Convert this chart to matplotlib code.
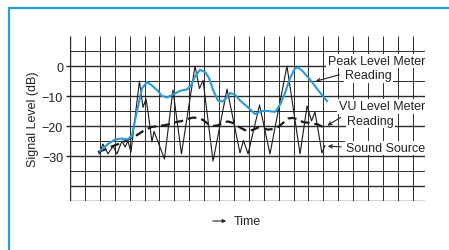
import matplotlib
matplotlib.use("Agg")
import matplotlib.pyplot as plt
from matplotlib.lines import Line2D
import numpy as np

plt.rcParams['font.family'] = ['Liberation Sans', 'DejaVu Sans']

# ---- data (time in grid divisions, level in dB) ----
peak_t = [2.01, 2.55, 3.02, 3.49, 3.89, 4.16, 4.50, 4.83, 5.17, 5.50, 5.84, 6.17,
          6.51, 6.91, 7.38, 7.85, 8.12, 8.39, 8.72, 9.06, 9.33, 9.60, 9.93, 10.27,
          10.60, 10.74, 11.07, 11.41, 11.88, 12.42, 12.89, 13.29, 13.76, 14.09,
          14.43, 14.77, 15.10, 15.30, 15.57, 16.11, 16.64, 17.25]
peak_db = [-28.3, -26.0, -24.5, -24.2, -24.5, -23.0, -15.0, -7.5, -5.3, -6.5, -8.0,
           -10.0, -10.5, -9.5, -8.3, -7.8, -6.5, -3.5, -1.3, -2.0, -4.0, -8.0, -11.5,
           -11.8, -10.0, -9.0, -9.5, -11.5, -13.5, -16.0, -15.0, -15.0, -15.3, -13.0,
           -9.0, -4.0, -0.8, -0.5, -1.5, -4.5, -8.0, -11.7]

vu_t = [1.88, 2.35, 2.82, 3.36, 3.89, 4.50, 5.03, 5.50, 6.04, 6.58, 7.05, 7.52,
        7.92, 8.26, 8.59, 8.93, 9.26, 9.60, 9.93, 10.27, 10.60, 10.94, 11.41,
        11.88, 12.28, 12.62, 12.95, 13.29, 13.62, 13.96, 14.30, 14.63, 14.97,
        15.30, 15.64, 16.11, 16.64, 17.25]
vu_db = [-28.7, -27.8, -26.8, -25.8, -24.6, -23.0, -21.3, -20.3, -20.0, -19.5,
         -18.8, -18.3, -17.6, -17.2, -17.3, -18.0, -19.3, -20.0, -19.8, -18.8,
         -18.5, -19.0, -20.5, -21.7, -21.3, -20.5, -20.8, -21.2, -21.0, -20.3,
         -19.0, -17.5, -17.3, -17.8, -18.7, -19.0, -19.5, -21.0]

src_t = [1.95, 2.21, 2.55, 2.89, 3.15, 3.49, 3.69, 3.89, 4.09, 4.66, 4.90, 5.10,
         5.23, 5.50, 5.64, 6.34, 6.91, 7.48, 8.39, 8.69, 8.93, 9.60, 10.54, 11.41,
         11.64, 11.95, 12.72, 13.42, 14.56, 15.44, 15.91, 16.21, 16.44, 16.91, 17.11]
src_db = [-29.3, -26.0, -29.3, -26.7, -29.3, -25.0, -27.0, -25.0, -28.7, -5.0,
          -13.8, -11.0, -15.0, -25.3, -21.8, -31.0, -8.0, -29.3, 0.0, -7.5, -4.8,
          -31.7, -7.7, -29.0, -24.8, -29.3, -13.0, -29.3, 0.0, -29.3, -13.3, -18.3,
          -15.3, -29.0, -26.5]

y_ticks = [0, -10, -20, -30]
y_tick_labels = ["0", "\u221210", "\u221220", "\u221230"]

W, H = 449, 251
fig = plt.figure(figsize=(W / 100, H / 100), dpi=100)
fig.patch.set_facecolor('white')

BLUE = '#2a9ad8'

# blue frame (left + top)
fig.add_artist(Line2D([8.5 / W, 8.5 / W], [0, 1 - 8.5 / H], color=BLUE, lw=1.6))
fig.add_artist(Line2D([8.5 / W, 1], [1 - 8.5 / H, 1 - 8.5 / H], color=BLUE, lw=1.6))

PX = 14.9  # px per division
left, right, top, bottom = 70, 425, 37, 202
ax = fig.add_axes([left / W, 1 - bottom / H, (right - left) / W, (bottom - top) / H])
xmax = (right - left) / PX
ax.set_xlim(0, xmax)
ax.set_ylim(-45, 10)
for s in ax.spines.values():
    s.set_visible(False)
ax.set_xticks([])
ax.set_yticks(y_ticks)
ax.set_yticklabels(y_tick_labels, fontsize=9, color='#222222')
ax.tick_params(axis='y', length=3, width=1.0, pad=2, color='#222222')

GRID = '#2a2a2a'
for k in range(24):
    ax.plot([k, k], [-45, 10], color=GRID, lw=1.0 if k == 0 else 0.7, zorder=1,
            solid_capstyle='butt')
for yv in range(-45, 6, 5):
    major = (yv % 10 == 0) or yv == -45
    ax.plot([0, xmax], [yv, yv], color=GRID, lw=1.0 if major else 0.7, zorder=1,
            solid_capstyle='butt')

ax.plot(src_t, src_db, color='#1a1a1a', lw=0.8, zorder=3)
ax.plot(vu_t, vu_db, color='#1a1a1a', lw=1.6, ls=(0, (4, 2.2)), zorder=4)
ax.plot(peak_t, peak_db, color=BLUE, lw=1.5, zorder=5)

ax.set_ylabel("Signal Level (dB)", fontsize=9, color='#222222', labelpad=2)

bb = dict(facecolor='white', edgecolor='none', pad=1.0)
def dx(px):
    return (px - left) / PX
def dy(py):
    return (67 - py) / 3.0

txt_kw = dict(fontsize=9, color='#222222', va='center', zorder=6, bbox=bb)
ax.text(dx(425), dy(62), "Peak Level Meter", ha='right', **txt_kw)
ax.text(dx(345), dy(76.5), "Reading", ha='left', **txt_kw)
ax.text(dx(425), dy(107.5), "VU Level Meter", ha='right', **txt_kw)
ax.text(dx(347), dy(121.5), "Reading", ha='left', **txt_kw)
ax.text(dx(425), dy(149), "Sound Source", ha='right', **txt_kw)

ap = dict(arrowstyle='->', color='#222222', lw=0.8, mutation_scale=6)
ax.annotate("", xy=(dx(313), dy(83)), xytext=(dx(342), dy(75)), arrowprops=ap, zorder=6)
ax.annotate("", xy=(dx(325), dy(128)), xytext=(dx(343), dy(117)), arrowprops=ap, zorder=6)
ax.annotate("", xy=(dx(325), dy(147)), xytext=(dx(344), dy(148)), arrowprops=ap, zorder=6)

# "→ Time" label
fig.add_artist(matplotlib.patches.FancyArrowPatch(
    (210 / W, 1 - 222 / H), (229 / W, 1 - 222 / H), transform=fig.transFigure,
    arrowstyle='-|>', mutation_scale=5, color='#222222', lw=0.8))
fig.text(234 / W, 1 - 222 / H, "Time", fontsize=9, color='#222222', va='center', ha='left')

fig.savefig("out.png", dpi=100)
